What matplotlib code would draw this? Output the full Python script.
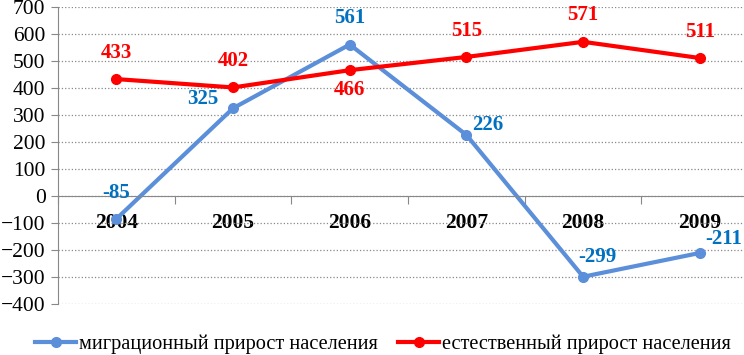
import numpy as np
import matplotlib.pyplot as plt

years = ['2004', '2005', '2006', '2007', '2008', '2009']
migration = [-85, 325, 561, 226, -299, -211]
natural = [433, 402, 466, 515, 571, 511]

# label offsets in points (dx, dy) for each point
mig_off = [(0, 19), (-22, 7), (0, 19), (15, 7), (10, 14), (17, 10)]
nat_off = [(0, 19), (0, 19), (0, -14), (0, 19), (0, 19), (0, 19)]

blue = '#5B8FD9'
blue_txt = '#0070C0'
red = '#FF0000'

plt.rcParams['font.family'] = ['Liberation Serif', 'DejaVu Serif']

fig = plt.figure(figsize=(7.44, 3.55), dpi=100)
ax = fig.add_axes([0.078, 0.1437, 0.941, 0.8366])

x = np.arange(len(years))
ax.plot(x, migration, color=blue, lw=3, marker='o', ms=7, label='миграционный прирост населения')
ax.plot(x, natural, color=red, lw=3, marker='o', ms=7, label='естественный прирост населения')

for i in x:
    ax.annotate(str(migration[i]), (i, migration[i]), xytext=mig_off[i], textcoords='offset points',
                ha='center', va='center', color=blue_txt, fontsize=15, fontweight='bold')
    ax.annotate(str(natural[i]), (i, natural[i]), xytext=nat_off[i], textcoords='offset points',
                ha='center', va='center', color=red, fontsize=15, fontweight='bold')

ax.set_xlim(-0.5, len(years) - 0.5)
ax.set_ylim(-400, 700)
ax.set_yticks(range(-400, 701, 100))
ax.tick_params(axis='y', labelsize=15.5, length=5, color='#888888', pad=4)
ax.yaxis.grid(True, linestyle=':', color='#888888', lw=0.9)

ax.spines['bottom'].set_position(('data', 0))
for s in ['top', 'right']:
    ax.spines[s].set_visible(False)
ax.spines['left'].set_color('#888888')
ax.spines['bottom'].set_color('#888888')

ax.set_xticks(np.arange(len(years) + 1) - 0.5)
ax.set_xticklabels([])
ax.tick_params(axis='x', which='major', length=6, color='#888888', direction='out')
ax.set_xticks(x, minor=True)
ax.set_xticklabels(years, minor=True, fontsize=15.5, fontweight='bold')
ax.tick_params(axis='x', which='minor', length=0, pad=12)

fig.legend(loc='lower center', ncol=2, frameon=False, fontsize=14.7, bbox_to_anchor=(0.515, -0.05),
           handlelength=2.0, columnspacing=1.0, handletextpad=0.15)

fig.savefig('out.png', dpi=100)
